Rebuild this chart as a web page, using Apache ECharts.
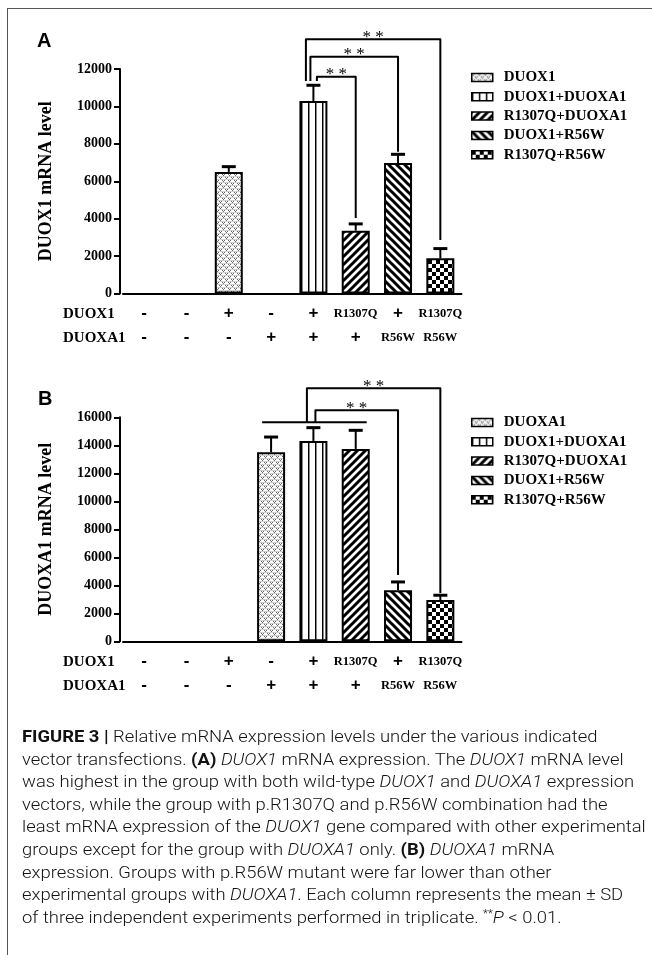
<!DOCTYPE html>
<html><head><meta charset="utf-8">
<script src="https://cdn.jsdelivr.net/npm/echarts@6/dist/echarts.min.js"></script>
<style>
html,body{margin:0;padding:0;background:#fff;}
#wrap{position:relative;width:652px;height:955px;overflow:hidden;}
#chart{position:absolute;left:0;top:0;width:652px;height:720px;}
#frame{position:absolute;left:7px;top:8px;width:700px;height:1000px;border-left:1px solid #555;border-top:1px solid #555;pointer-events:none;}
#cap{position:absolute;left:22px;top:726px;font-family:Roboto,'Liberation Sans',sans-serif;font-weight:300;font-size:16px;line-height:22.6px;color:#111;white-space:nowrap;transform:scaleX(1.15);transform-origin:0 0;}
#cap b{font-weight:700;}
#cap sup{font-size:10px;line-height:0;vertical-align:6px;}
</style></head>
<body><div id="wrap"><div id="chart"></div><div id="frame"></div>
<div id="cap"><b>FIGURE 3 |</b> Relative mRNA expression levels under the various indicated<br>vector transfections. <b>(A)</b> <i>DUOX1</i> mRNA expression. The <i>DUOX1</i> mRNA level<br>was highest in the group with both wild-type <i>DUOX1</i> and <i>DUOXA1</i> expression<br>vectors, while the group with p.R1307Q and p.R56W combination had the<br>least mRNA expression of the <i>DUOX1</i> gene compared with other experimental<br>groups except for the group with <i>DUOXA1</i> only. <b>(B)</b> <i>DUOXA1</i> mRNA<br>expression. Groups with p.R56W mutant were far lower than other<br>experimental groups with <i>DUOXA1</i>. Each column represents the mean &plusmn; SD<br>of three independent experiments performed in triplicate. <sup>**</sup><i>P</i> &lt; 0.01.</div>
</div>
<script>
// ---------- data ----------
const categories = ['1','2','3','4','5','6','7','8'];
const rowDUOX1  = ['-','-','+','-','+','R1307Q','+','R1307Q'];
const rowDUOXA1 = ['-','-','-','+','+','+','R56W','R56W'];

const legendA = ['DUOX1','DUOX1+DUOXA1','R1307Q+DUOXA1','DUOX1+R56W','R1307Q+R56W'];
const columnsA = [2,4,5,6,7];
const meansA   = [6500,10290,3360,6975,1880];
const errTopA  = [6780,11130,3720,7440,2400];

const legendB = ['DUOXA1','DUOX1+DUOXA1','R1307Q+DUOXA1','DUOX1+R56W','R1307Q+R56W'];
const columnsB = [3,4,5,6,7];
const meansB   = [13500,14310,13740,3640,2950];
const errTopB  = [14590,15260,15070,4240,3290];

const yMaxA = 12000, yMaxB = 16000, yStep = 2000;

// significance brackets: [fromCol, toCol, lineLevel, leftEnd, rightEnd]
const bracketsA = [[4,7,13590,11360,2860],[4,6,12660,11360,7580],[4,5,11590,11360,4035]];
const bracketsB = [[4,7,18070,15640,3450],[4,6,16500,15640,4740]];
const groupLineB = [[3,5,15640]];

// ---------- styling helpers ----------
const legDxA = [[-7.5,0],[-3,0],[3.5,0]];
const legDxB = [[-6.5,0],[2,0]];
const groupDxB = [[-9,11]];

function makePattern(kind){
  const c = document.createElement('canvas');
  const w = kind==='vert'?7:(kind==='stip'?6:8), h = kind==='vert'?4:(kind==='stip'?6:8);
  c.width=w; c.height=h;
  const g = c.getContext('2d');
  g.fillStyle='#fff'; g.fillRect(0,0,w,h);
  if(kind==='stip'){
    g.fillStyle='#d0d0d0'; g.fillRect(0,2,6,1); g.fillRect(0,5,6,1);
    g.fillStyle='#6a6a6a';
    [[0,0],[1,1],[2,0],[3,3],[4,4],[5,3]].forEach(p=>g.fillRect(p[0],p[1],1,1));
  } else if(kind==='vert'){
    g.fillStyle='#000'; g.fillRect(0,0,1,h);
    g.fillStyle='#888'; g.fillRect(1,0,1,h);
  } else if(kind==='slash'){
    g.strokeStyle='#000'; g.lineWidth=3;
    g.beginPath();
    g.moveTo(-2,2); g.lineTo(2,-2);
    g.moveTo(-2,10); g.lineTo(10,-2);
    g.moveTo(6,10); g.lineTo(10,6);
    g.stroke();
  } else if(kind==='back'){
    g.strokeStyle='#000'; g.lineWidth=3;
    g.beginPath();
    g.moveTo(-2,-2); g.lineTo(10,10);
    g.moveTo(-2,6); g.lineTo(2,10);
    g.moveTo(6,-2); g.lineTo(10,2);
    g.stroke();
  } else if(kind==='check'){
    g.fillStyle='#000'; g.fillRect(0,0,4,4); g.fillRect(4,4,4,4);
  }
  return {image:c, repeat:'repeat'};
}
const patterns = ['stip','vert','slash','back','check'].map(makePattern);

const SERIF = '"Liberation Serif","Times New Roman",serif';
const SANS = '"Liberation Sans",Arial,sans-serif';

function symbolText(s){
  return (s==='+'||s==='-') ? '{s|'+s+'}' : '{t|'+s+'}';
}

function panelAxes(p, yMax, yName){
  const xAxis = {
    type:'category', gridIndex:p, data:categories,
    axisLine:{lineStyle:{color:'#000',width:2}},
    axisTick:{alignWithLabel:true,length:6,lineStyle:{color:'#000',width:2}},
    axisLabel:{interval:0, margin:8,
      formatter:(v,i)=>symbolText(rowDUOX1[i])+'\n'+symbolText(rowDUOXA1[i]),
      rich:{
        s:{fontFamily:SANS,fontWeight:'bold',fontSize:17,lineHeight:24,color:'#000'},
        t:{fontFamily:SERIF,fontWeight:'bold',fontSize:12.5,lineHeight:24,color:'#000'}
      }}
  };
  const yAxis = {
    type:'value', gridIndex:p, min:0, max:yMax, interval:yStep, offset:3,
    axisLine:{show:true,lineStyle:{color:'#000',width:2}},
    axisTick:{show:true,length:6,lineStyle:{color:'#000',width:2}},
    splitLine:{show:false},
    axisLabel:{fontFamily:SERIF,fontWeight:'bold',fontSize:14,color:'#000',margin:8,
      formatter:v=>String(v)},
    name:yName, nameLocation:'middle', nameGap:65,
    nameTextStyle:{fontFamily:SERIF,fontWeight:'bold',fontSize:18,color:'#000'}
  };
  return {xAxis,yAxis};
}

function panelSeries(p, names, cols, means, tops, brackets, legDx, groups, groupDx){
  const out = [];
  names.forEach((nm,k)=>{
    out.push({
      type:'bar', name:nm, xAxisIndex:p, yAxisIndex:p,
      barWidth:28, barGap:'-100%',
      data: categories.map((c,i)=> i===cols[k] ? means[k] : null),
      itemStyle:{color:patterns[k], borderColor:'#000', borderWidth:2},
      emphasis:{disabled:true}, z:2
    });
  });
  out.push({
    type:'custom', xAxisIndex:p, yAxisIndex:p, z:3, silent:true,
    data: cols.map((c,k)=>[c, means[k], tops[k]]),
    renderItem:(params, api)=>{
      const a = api.coord([api.value(0), api.value(1)]);
      const t = api.coord([api.value(0), api.value(2)]);
      return {type:'group', children:[
        {type:'line', shape:{x1:a[0],y1:a[1],x2:a[0],y2:t[1]}, style:{stroke:'#000',lineWidth:2}},
        {type:'line', shape:{x1:a[0]-7,y1:t[1],x2:a[0]+7,y2:t[1]}, style:{stroke:'#000',lineWidth:3}}
      ]};
    }
  });
  out.push({
    type:'custom', xAxisIndex:p, yAxisIndex:p, z:4, silent:true, clip:false,
    data: brackets,
    renderItem:(params, api)=>{
      const d = legDx[params.dataIndex];
      const l1 = api.coord([api.value(0), api.value(3)]);
      const l0 = api.coord([api.value(0), api.value(2)]);
      const r0 = api.coord([api.value(1), api.value(2)]);
      const r1 = api.coord([api.value(1), api.value(4)]);
      const xl = l0[0]+d[0], xr = r0[0]+d[1];
      return {type:'group', children:[
        {type:'polyline', shape:{points:[[xl,l1[1]],[xl,l0[1]],[xr,r0[1]],[xr,r1[1]]]},
          style:{stroke:'#000',lineWidth:2,fill:null,lineJoin:'round'}},
        {type:'text', x:(xl+xr)/2, y:l0[1]-2,
          style:{text:'* *', font:'17px '+SERIF, fill:'#000',
            textAlign:'center', textVerticalAlign:'middle', align:'center', verticalAlign:'middle'}}
      ]};
    }
  });
  if(groups){
    out.push({
      type:'custom', xAxisIndex:p, yAxisIndex:p, z:4, silent:true, clip:false,
      data: groups,
      renderItem:(params, api)=>{
        const d = groupDx[params.dataIndex];
        const a = api.coord([api.value(0), api.value(2)]);
        const b = api.coord([api.value(1), api.value(2)]);
        return {type:'line', shape:{x1:a[0]+d[0],y1:a[1],x2:b[0]+d[1],y2:b[1]}, style:{stroke:'#000',lineWidth:2}};
      }
    });
  }
  return out;
}

const axA = panelAxes(0, yMaxA, 'DUOX1 mRNA level');
const axB = panelAxes(1, yMaxB, 'DUOXA1 mRNA level');

function legendCfg(names, top){
  return {
    data:names, orient:'vertical', left:466, top:top, icon:'rect',
    itemWidth:21, itemHeight:8, itemGap:4.3, selectedMode:false,
    itemStyle:{borderColor:'#000', borderWidth:1.5},
    textStyle:{fontFamily:SERIF,fontWeight:'bold',fontSize:15,color:'#000',padding:[0,0,0,6]}
  };
}

function rowLabel(txt, y){
  return {type:'text', x:63, y:y, style:{text:txt, font:'bold 15px '+SERIF, fill:'#000',
    textVerticalAlign:'middle', verticalAlign:'middle'}};
}

const chart = echarts.init(document.getElementById('chart'), null, {renderer:'canvas'});
chart.setOption({
  animation:false,
  backgroundColor:'transparent',
  grid:[
    {left:123, top:69, width:338.5, height:224.5},
    {left:123, top:417.3, width:338.5, height:224}
  ],
  xAxis:[axA.xAxis, axB.xAxis],
  yAxis:[axA.yAxis, axB.yAxis],
  legend:[legendCfg(legendA, 65), legendCfg(legendB, 410)],
  graphic:[
    {type:'text', x:37, y:41, style:{text:'A', font:'bold 20px '+SANS, fill:'#000', textVerticalAlign:'middle', verticalAlign:'middle'}},
    {type:'text', x:38, y:399, style:{text:'B', font:'bold 20px '+SANS, fill:'#000', textVerticalAlign:'middle', verticalAlign:'middle'}},
    rowLabel('DUOX1', 313.7), rowLabel('DUOXA1', 338),
    rowLabel('DUOX1', 661.7), rowLabel('DUOXA1', 686)
  ],
  series:[].concat(
    panelSeries(0, legendA, columnsA, meansA, errTopA, bracketsA, legDxA, null, null),
    panelSeries(1, legendB, columnsB, meansB, errTopB, bracketsB, legDxB, groupLineB, groupDxB)
  )
});
</script>
</body></html>
